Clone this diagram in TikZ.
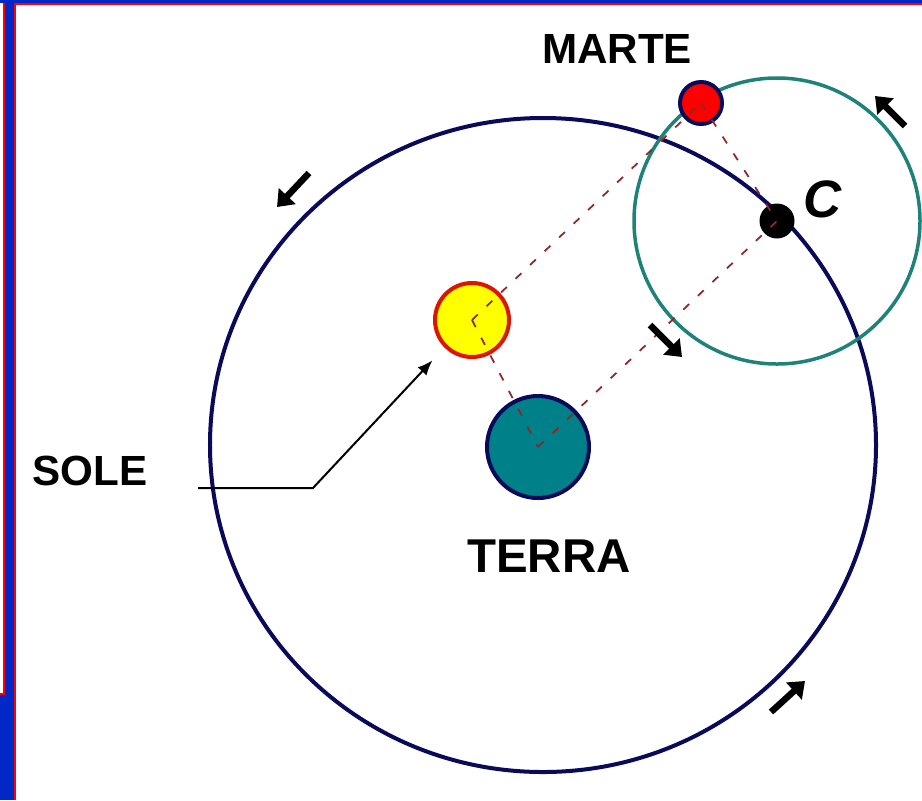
\documentclass[tikz,border=0pt]{standalone}
\usepackage{fontspec}
\setmainfont{Liberation Sans}
\usetikzlibrary{arrows.meta,calc}
\definecolor{slideblue}{RGB}{0,40,200}
\definecolor{slidered}{RGB}{255,0,0}
\definecolor{orbitnavy}{RGB}{10,10,90}
\definecolor{epiteal}{RGB}{30,130,120}
\definecolor{earthteal}{RGB}{0,128,136}
\definecolor{sunyellow}{RGB}{255,255,0}
\definecolor{sunred}{RGB}{220,20,0}
\definecolor{dashred}{RGB}{140,40,40}

\begin{document}
\begin{tikzpicture}[x=0.2mm, y=-0.2mm, >=Stealth,
  planet/.style={circle, inner sep=0pt, line width=0.8mm},
  tag/.style={font=\bfseries\fontsize{24}{24}\selectfont, inner sep=0pt},
  link/.style={dashred, line width=0.35mm, dash pattern=on 1.6mm off 2.4mm},
  motion/.style={line width=1.3mm, -{Triangle[length=3mm, width=4.5mm]}}]
  % Slide frame
  \useasboundingbox (0,0) rectangle (922,800);
  \fill[white] (0,0) rectangle (922,800);
  \fill[slideblue] (0,0) rectangle (922,3);
  \fill[slideblue] (5,0) rectangle (14,695);
  \fill[slideblue] (0,695) rectangle (14,800);
  \fill[slidered] (14,3) rectangle (922,5);
  \fill[slidered] (14,3) rectangle (16,800);
  \fill[slidered] (3,3) rectangle (5,695);
  \fill[slidered] (0,693) rectangle (5,695);

  % Deferent and epicycle
  \coordinate (cdef) at (543,445);
  \coordinate (cepi) at (777,221);
  \draw[orbitnavy, line width=0.8mm] (cdef) ellipse [x radius=66.6mm, y radius=65.4mm];
  \draw[epiteal, line width=0.7mm] (cepi) circle (28.6mm);

  % Bodies
  \node[planet, draw=orbitnavy, fill=earthteal, minimum size=20.4mm] (terra) at (538,447) {};
  \node[planet, draw=sunred, fill=sunyellow, minimum size=14.8mm] (sole) at (472,320) {};
  \node[planet, draw=orbitnavy, fill=red, minimum size=8.4mm] (marte) at (701,103) {};
  \node[circle, fill=black, inner sep=0pt, minimum size=7mm] (centro) at (cepi) {};

  % Parallelogram of dashed links
  \draw[link] (sole.center) -- (marte.center);
  \draw[link] (sole.center) -- (terra.center);
  \draw[link] (terra.center) -- (centro.center);
  \draw[link] (marte.center) -- (centro.center);

  % Direction of motion
  \draw[motion] (309,173) -- (277,207);
  \draw[motion] (905,126) -- (875,96);
  \draw[motion] (650,325) -- (682,357);
  \draw[motion] (771,712) -- (805,681);

  % Labels
  \node[tag] (lmarte) at (617,49) {MARTE};
  \node[tag, font=\bfseries\fontsize{27}{27}\selectfont] (lterra) at (549,556) {TERRA};
  \node[tag, font=\bfseries\itshape\fontsize{30}{30}\selectfont] (lc) at (823,199) {C};
  \node[tag] (lsole) at (90,471) {SOLE};
  \coordinate (piede) at (198,488);
  \draw[line width=0.4mm, -{Latex[length=3mm, width=2.4mm]}, shorten >=3.5mm]
    (piede) -- (313,488) -- (sole.south west);
\end{tikzpicture}
\end{document}
